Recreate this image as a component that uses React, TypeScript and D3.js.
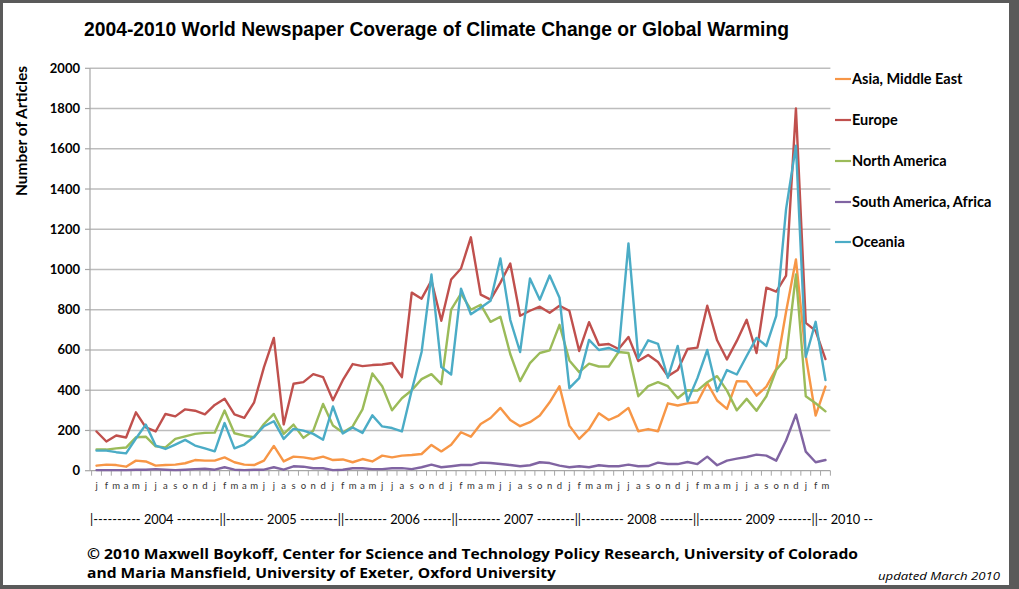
import React from "react";
import * as d3 from "d3";

const monthLabels = [
  "j","f","m","a","m","j","j","a","s","o","n","d",
  "j","f","m","a","m","j","j","a","s","o","n","d",
  "j","f","m","a","m","j","j","a","s","o","n","d",
  "j","f","m","a","m","j","j","a","s","o","n","d",
  "j","f","m","a","m","j","j","a","s","o","n","d",
  "j","f","m","a","m","j","j","a","s","o","n","d",
  "j","f","m",
];

const asia = [25,30,28,20,50,46,25,28,30,37,53,50,
  50,66,42,30,28,50,123,46,70,66,58,70,
  53,56,42,58,46,75,66,75,78,83,128,96,
  129,191,169,232,262,312,252,221,241,274,340,420,
  224,158,207,286,252,274,312,196,207,196,335,324,
  335,340,435,349,307,445,443,373,418,506,790,1050,
  570,274,418];

const europe = [195,145,175,165,290,215,195,282,270,305,298,280,
  327,358,280,263,340,515,660,230,432,440,480,465,
  350,450,530,520,525,528,535,465,885,855,945,745,
  950,1005,1160,875,850,935,1030,770,795,815,785,820,
  795,595,738,625,630,605,665,545,575,540,470,500,
  605,612,820,648,553,645,750,585,910,890,970,1800,
  735,695,555];

const northAmerica = [105,105,111,115,166,169,121,116,158,171,183,188,
  189,299,186,174,166,232,282,183,229,163,199,332,
  225,190,220,305,483,420,300,360,400,455,480,430,
  800,880,800,825,740,765,580,445,535,585,598,725,
  548,490,532,518,518,590,585,370,420,440,420,360,
  400,398,440,470,398,300,357,298,370,500,560,975,
  370,335,295];

const southAmericaAfrica = [3,3,3,3,5,5,8,5,3,5,8,10,
  5,17,5,3,5,5,17,5,22,20,12,12,
  3,5,12,12,8,8,12,13,8,17,30,17,
  22,28,28,40,38,33,28,22,27,42,38,25,
  17,22,17,27,22,22,30,22,23,40,33,33,
  43,33,70,27,50,60,68,80,75,50,150,279,
  95,42,53];

const oceania = [100,100,92,86,160,229,125,108,130,153,125,111,
  96,237,111,130,169,221,246,158,208,199,183,154,
  319,185,215,188,275,220,212,195,400,590,975,515,
  478,905,777,810,845,1055,750,590,955,850,970,860,
  410,460,650,600,610,590,1130,560,648,630,462,620,
  345,460,600,395,500,478,570,660,620,770,1300,1615,
  565,740,450];

const seriesNames = ["Asia, Middle East", "Europe", "North America", "South America, Africa", "Oceania"];
const seriesColors = ["#F79646", "#C0504D", "#9BBB59", "#8064A2", "#4BACC6"];
const seriesValues = [asia, europe, northAmerica, southAmericaAfrica, oceania];

const yTicks = [0, 200, 400, 600, 800, 1000, 1200, 1400, 1600, 1800, 2000];

const yearLine =
  "|---------- 2004 ---------||-------- 2005 --------||--------- 2006 ------||--------- 2007 --------||--------- 2008 -------||--------- 2009 -------||-- 2010 --";

const title = "2004-2010 World Newspaper Coverage of Climate Change or Global Warming";
const credit1 = "\u00A9 2010 Maxwell Boykoff, Center for Science and Technology Policy Research, University of Colorado";
const credit2 = "and Maria Mansfield, University of Exeter, Oxford University";
const updated = "updated March 2010";

export default function App() {
  const W = 1019;
  const H = 589;
  const left = 91.6;
  const right = 830.4;
  const yBottom = 470.7;
  const yTop = 68.3;

  const idx = monthLabels.map((_, i) => i);
  const x = d3.scaleBand<number>().domain(idx).range([left, right]).padding(0);
  const xc = (i: number) => (x(i) as number) + x.bandwidth() / 2;
  const y = d3.scaleLinear().domain([0, 2000]).range([yBottom, yTop]);

  const line = d3
    .line<number>()
    .x((_, i) => xc(i))
    .y((d) => y(d));

  const legendY = [79, 120, 161, 202, 242];

  return (
    <svg
      width={W}
      height={H}
      style={{ position: "absolute", left: 0, top: 0, display: "block" }}
    >
      <rect x={0} y={0} width={W} height={H} fill="#5a5a5a" />
      <rect x={3} y={3} width={1006} height={582} fill="#ffffff" />

      <text
        x={84}
        y={36}
        fontFamily="'Liberation Sans Narrow', 'Arial Narrow', 'Liberation Sans', Arial, sans-serif"
        fontWeight="bold"
        fontSize={21}
        textLength={705}
        lengthAdjust="spacingAndGlyphs"
        fill="#000"
      >
        {title}
      </text>

      {/* gridlines */}
      {yTicks.map((t) =>
        t === 0 ? null : (
          <line
            key={"g" + t}
            x1={left - 1.6}
            x2={right}
            y1={y(t)}
            y2={y(t)}
            stroke="#bdbdbd"
            strokeWidth={1.6}
          />
        )
      )}

      {/* y axis */}
      <line x1={90} x2={90} y1={yTop} y2={yBottom} stroke="#a6a6a6" strokeWidth={1.2} />
      {yTicks.map((t) => (
        <g key={"t" + t}>
          <line x1={85} x2={90} y1={y(t)} y2={y(t)} stroke="#a6a6a6" strokeWidth={1.2} />
          <text
            x={80}
            y={y(t) + 4.5}
            textAnchor="end"
            fontFamily="Lato, 'Open Sans', sans-serif"
            fontWeight="bold"
            fontSize={13}
            fill="#000"
          >
            {t}
          </text>
        </g>
      ))}
      <text
        transform={`translate(27, 131) rotate(-90)`}
        textAnchor="middle"
        fontFamily="Lato, 'Open Sans', sans-serif"
        fontWeight="bold"
        fontSize={15.5}
        fill="#000"
      >
        Number of Articles
      </text>

      {/* x axis */}
      <line x1={90} x2={right} y1={yBottom} y2={yBottom} stroke="#a6a6a6" strokeWidth={1.2} />
      {idx.concat([idx.length]).map((i) => {
        const xx = i < idx.length ? (x(i) as number) : right;
        return (
          <line
            key={"xt" + i}
            x1={xx}
            x2={xx}
            y1={yBottom}
            y2={yBottom + 5}
            stroke="#a6a6a6"
            strokeWidth={1}
          />
        );
      })}
      {monthLabels.map((m, i) => (
        <text
          key={"m" + i}
          x={xc(i)}
          y={489}
          textAnchor="middle"
          fontFamily="Lato, 'Open Sans', sans-serif"
          fontSize={9.5}
          fill="#333"
        >
          {m}
        </text>
      ))}

      {/* series */}
      {seriesValues.map((vals, s) => (
        <path
          key={"s" + s}
          d={line(vals) || ""}
          fill="none"
          stroke={seriesColors[s]}
          strokeWidth={2.4}
          strokeLinejoin="round"
          strokeLinecap="round"
        />
      ))}

      {/* legend */}
      {seriesNames.map((n, s) => (
        <g key={"l" + s}>
          <line
            x1={835}
            x2={851}
            y1={legendY[s]}
            y2={legendY[s]}
            stroke={seriesColors[s]}
            strokeWidth={2.2}
          />
          <text
            x={852}
            y={legendY[s] + 5}
            fontFamily="Lato, 'Open Sans', sans-serif"
            fontWeight="bold"
            fontSize={14.5}
            fill="#000"
          >
            {n}
          </text>
        </g>
      ))}

      <text
        x={90}
        y={524}
        fontFamily="Lato, 'Open Sans', sans-serif"
        fontSize={14}
        textLength={783}
        lengthAdjust="spacingAndGlyphs"
        fill="#000"
      >
        {yearLine}
      </text>

      <text
        x={87}
        y={559}
        fontFamily="'Open Sans', 'Noto Sans', sans-serif"
        fontWeight="bold"
        fontSize={14.5}
        textLength={771}
        lengthAdjust="spacingAndGlyphs"
        fill="#000"
      >
        {credit1}
      </text>
      <text
        x={87}
        y={578}
        fontFamily="'Open Sans', 'Noto Sans', sans-serif"
        fontWeight="bold"
        fontSize={14.5}
        textLength={469}
        lengthAdjust="spacingAndGlyphs"
        fill="#000"
      >
        {credit2}
      </text>
      <text
        x={878}
        y={580}
        fontFamily="'Open Sans', 'Noto Sans', sans-serif"
        fontStyle="italic"
        fontSize={11}
        textLength={122}
        lengthAdjust="spacingAndGlyphs"
        fill="#000"
      >
        {updated}
      </text>
    </svg>
  );
}
